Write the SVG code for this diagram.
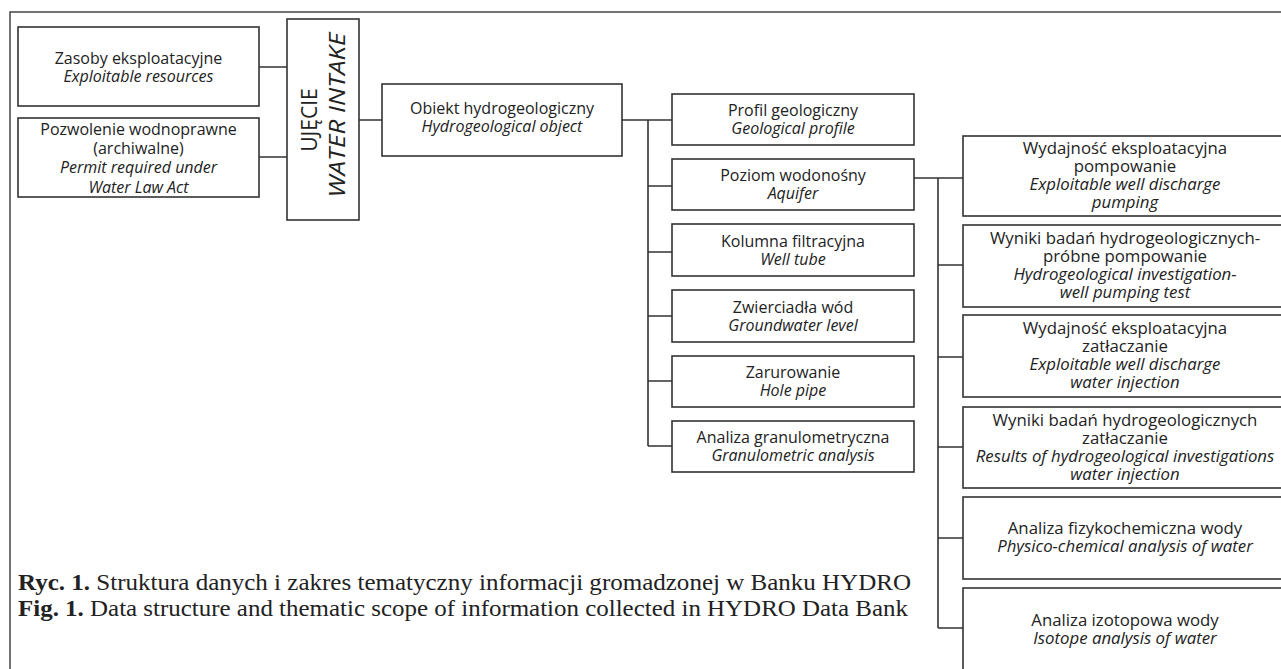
<svg xmlns="http://www.w3.org/2000/svg" width="1281" height="669" viewBox="0 0 1281 669">
<style>
.frame{fill:none;stroke:#444;stroke-width:1.5}
.box{fill:#fff;stroke:#333;stroke-width:1.6}
.con{fill:none;stroke:#333;stroke-width:1.6}
text{font-family:"Open Sans","DejaVu Sans",sans-serif;font-size:16px;fill:#222;text-anchor:middle}
.i{font-style:italic}
.r{font-size:16.8px}
.big{font-size:21px}
.cap{font-family:"Liberation Serif","Times New Roman",serif;font-size:23px;text-anchor:start}
.b{font-weight:bold}
</style>
<rect width="1281" height="669" fill="#fff"/>
<path class="frame" d="M10 669 V12 H1281"/>
<g id="connectors">
<path class="con" d="M259 67 H287 M259 157 H287 M359 120 H382"/>
<path class="con" d="M622 120 H672 M648 120 V446 M648 186 H672 M648 252 H672 M648 316 H672 M648 381 H672 M648 446 H672"/>
<path class="con" d="M914 178 H963 M938 178 V628 M938 265 H963 M938 357 H963 M938 447 H963 M938 538 H963 M938 628 H963"/>
</g>
<g id="zasoby"><rect class="box" x="18" y="27" width="241" height="79"/>
<text x="138.5" y="63.5">Zasoby eksploatacyjne</text><text class="i" x="138.5" y="81.5">Exploitable resources</text></g>
<g id="pozwolenie"><rect class="box" x="18" y="118" width="241" height="79"/>
<text x="138.5" y="134.5">Pozwolenie wodnoprawne</text><text x="138.5" y="153.5">(archiwalne)</text>
<text class="i" x="138.5" y="173">Permit required under</text><text class="i" x="138.5" y="192.5">Water Law Act</text></g>
<g id="ujecie"><rect class="box" x="287" y="19" width="72" height="201"/>
<text class="big" transform="translate(317 120) rotate(-90)">UJĘCIE</text>
<text class="big i" transform="translate(345 115) rotate(-90)" textLength="165" lengthAdjust="spacingAndGlyphs">WATER INTAKE</text></g>
<g id="obiekt"><rect class="box" x="382" y="84" width="240" height="72"/>
<text x="502" y="113.5">Obiekt hydrogeologiczny</text><text class="i" x="502" y="131.5">Hydrogeological object</text></g>
<g id="profil"><rect class="box" x="672" y="94" width="242" height="51"/>
<text x="793" y="116">Profil geologiczny</text><text class="i" x="793" y="134">Geological profile</text></g>
<g id="poziom"><rect class="box" x="672" y="159" width="242" height="51"/>
<text x="793" y="181">Poziom wodonośny</text><text class="i" x="793" y="199">Aquifer</text></g>
<g id="kolumna"><rect class="box" x="672" y="224" width="242" height="52"/>
<text x="793" y="246.5">Kolumna filtracyjna</text><text class="i" x="793" y="264.5">Well tube</text></g>
<g id="zwierciadla"><rect class="box" x="672" y="290" width="242" height="52"/>
<text x="793" y="312.5">Zwierciadła wód</text><text class="i" x="793" y="330.5">Groundwater level</text></g>
<g id="zarurowanie"><rect class="box" x="672" y="356" width="242" height="51"/>
<text x="793" y="378">Zarurowanie</text><text class="i" x="793" y="396">Hole pipe</text></g>
<g id="granulometria"><rect class="box" x="672" y="421" width="242" height="51"/>
<text x="793" y="443">Analiza granulometryczna</text><text class="i" x="793" y="461">Granulometric analysis</text></g>
<g id="wyd-pomp"><rect class="box" x="963" y="136" width="324" height="80"/>
<text class="r" x="1125" y="154">Wydajność eksploatacyjna</text><text class="r" x="1125" y="172">pompowanie</text>
<text class="r i" x="1125" y="190">Exploitable well discharge</text><text class="r i" x="1125" y="208">pumping</text></g>
<g id="wyniki-pomp"><rect class="box" x="963" y="225" width="324" height="82"/>
<text class="r" x="1125" y="244">Wyniki badań hydrogeologicznych-</text><text class="r" x="1125" y="262">próbne pompowanie</text>
<text class="r i" x="1125" y="280">Hydrogeological investigation-</text><text class="r i" x="1125" y="298">well pumping test</text></g>
<g id="wyd-zatl"><rect class="box" x="963" y="315" width="324" height="82"/>
<text class="r" x="1125" y="334">Wydajność eksploatacyjna</text><text class="r" x="1125" y="352">zatłaczanie</text>
<text class="r i" x="1125" y="370">Exploitable well discharge</text><text class="r i" x="1125" y="388">water injection</text></g>
<g id="wyniki-zatl"><rect class="box" x="963" y="407" width="324" height="81"/>
<text class="r" x="1125" y="425.5">Wyniki badań hydrogeologicznych</text><text class="r" x="1125" y="443.5">zatłaczanie</text>
<text class="r i" x="1125" y="461.5">Results of hydrogeological investigations</text><text class="r i" x="1125" y="479.5">water injection</text></g>
<g id="fizykochem"><rect class="box" x="963" y="497" width="324" height="82"/>
<text class="r" x="1125" y="534">Analiza fizykochemiczna wody</text><text class="r i" x="1125" y="552">Physico-chemical analysis of water</text></g>
<g id="izotop"><rect class="box" x="963" y="588" width="324" height="90"/>
<text class="r" x="1125" y="626">Analiza izotopowa wody</text><text class="r i" x="1125" y="644">Isotope analysis of water</text></g>
<g id="caption">
<text class="cap" x="18" y="590" textLength="893" lengthAdjust="spacingAndGlyphs"><tspan class="b">Ryc. 1.</tspan> Struktura danych i zakres tematyczny informacji gromadzonej w Banku HYDRO</text>
<text class="cap" x="18" y="616" textLength="890" lengthAdjust="spacingAndGlyphs"><tspan class="b">Fig. 1.</tspan> Data structure and thematic scope of information collected in HYDRO Data Bank</text>
</g>
</svg>
